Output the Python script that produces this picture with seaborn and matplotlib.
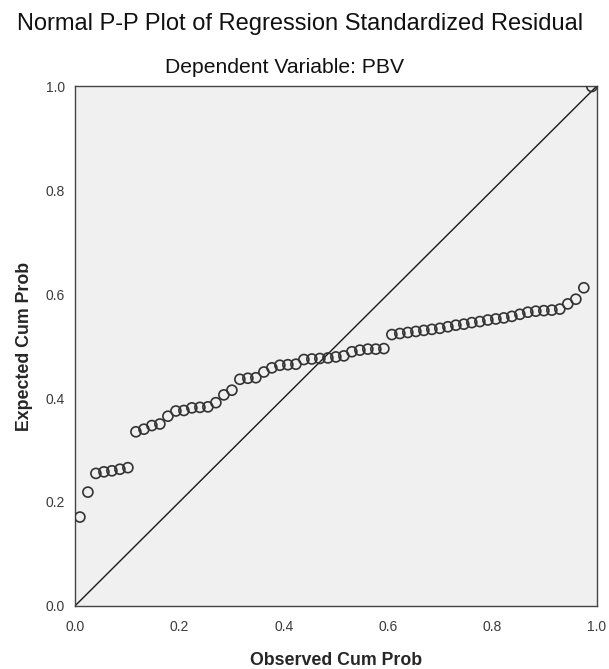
import numpy as np
import pandas as pd
import matplotlib
matplotlib.use("Agg")
import matplotlib.pyplot as plt
import seaborn as sns

# observed cumulative probability (x) and expected cumulative probability (y)
observed_cum_prob = [
    0.0096, 0.0249, 0.0402, 0.0556, 0.0709, 0.0862, 0.1015, 0.1169, 0.1322, 0.1475,
    0.1628, 0.1782, 0.1935, 0.2088, 0.2241, 0.2395, 0.2548, 0.2701, 0.2854, 0.3008,
    0.3161, 0.3314, 0.3467, 0.3621, 0.3774, 0.3927, 0.4080, 0.4234, 0.4387, 0.4540,
    0.4693, 0.4847, 0.5000, 0.5153, 0.5307, 0.5460, 0.5613, 0.5766, 0.5920, 0.6073,
    0.6226, 0.6379, 0.6533, 0.6686, 0.6839, 0.6992, 0.7146, 0.7299, 0.7452, 0.7605,
    0.7759, 0.7912, 0.8065, 0.8218, 0.8372, 0.8525, 0.8678, 0.8831, 0.8985, 0.9138,
    0.9291, 0.9444, 0.9598, 0.9751, 0.9904,
]
expected_cum_prob = [
    0.171, 0.219, 0.255, 0.258, 0.260, 0.263, 0.266,
    0.335, 0.340, 0.347, 0.350, 0.365, 0.375, 0.376, 0.381, 0.382, 0.383, 0.391,
    0.406, 0.415, 0.436, 0.438, 0.439,
    0.450, 0.458, 0.463, 0.464, 0.465, 0.474, 0.475, 0.476, 0.477, 0.479, 0.481,
    0.489, 0.492, 0.494, 0.494, 0.495,
    0.522, 0.524, 0.526, 0.528, 0.530, 0.532, 0.534, 0.537, 0.540, 0.542, 0.545,
    0.547, 0.550, 0.552, 0.554, 0.557, 0.561, 0.565, 0.567, 0.568, 0.569, 0.571,
    0.581, 0.590, 0.612,
    0.999,
]
ticks = [0.0, 0.2, 0.4, 0.6, 0.8, 1.0]
tick_labels = ["0.0", "0.2", "0.4", "0.6", "0.8", "1.0"]

df = pd.DataFrame({"observed": observed_cum_prob, "expected": expected_cum_prob})

sns.set_style("white")
plt.rcParams["font.family"] = ["Liberation Sans", "DejaVu Sans"]

fig = plt.figure(figsize=(6.09, 6.69), dpi=100)
ax = fig.add_axes([0.123, 0.0942, 0.857, 0.7772])
ax.set_facecolor("#f0f0f0")

ax.axline((0, 0), slope=1, color="#1a1a1a", lw=1.0, zorder=2)
sns.scatterplot(data=df, x="observed", y="expected", ax=ax, marker="o",
                s=52, facecolor="none", edgecolor="#333333", linewidth=1.2,
                zorder=3)

ax.set_xlim(0, 1)
ax.set_ylim(0, 1)
ax.set_xticks(ticks)
ax.set_xticklabels(tick_labels)
ax.set_yticks(ticks)
ax.set_yticklabels(tick_labels)
ax.tick_params(axis="x", pad=5)
ax.tick_params(axis="y", pad=2)
ax.tick_params(axis="both", direction="out", length=5, width=1, color="#333333",
               labelsize=10, labelcolor="#3a3a3a")
for sp in ax.spines.values():
    sp.set_color("#444444")
    sp.set_linewidth(1.0)

ax.set_xlabel("Observed Cum Prob", fontsize=12.8, fontweight="bold", labelpad=13)
ax.set_ylabel("Expected Cum Prob", fontsize=12.8, fontweight="bold", labelpad=9)

fig.text(0.493, 0.964, "Normal P-P Plot of Regression Standardized Residual",
         ha="center", va="center", fontsize=17, color="#111111")
fig.text(0.468, 0.899, "Dependent Variable: PBV",
         ha="center", va="center", fontsize=15.2, color="#111111")

fig.savefig("out.png", dpi=100)
